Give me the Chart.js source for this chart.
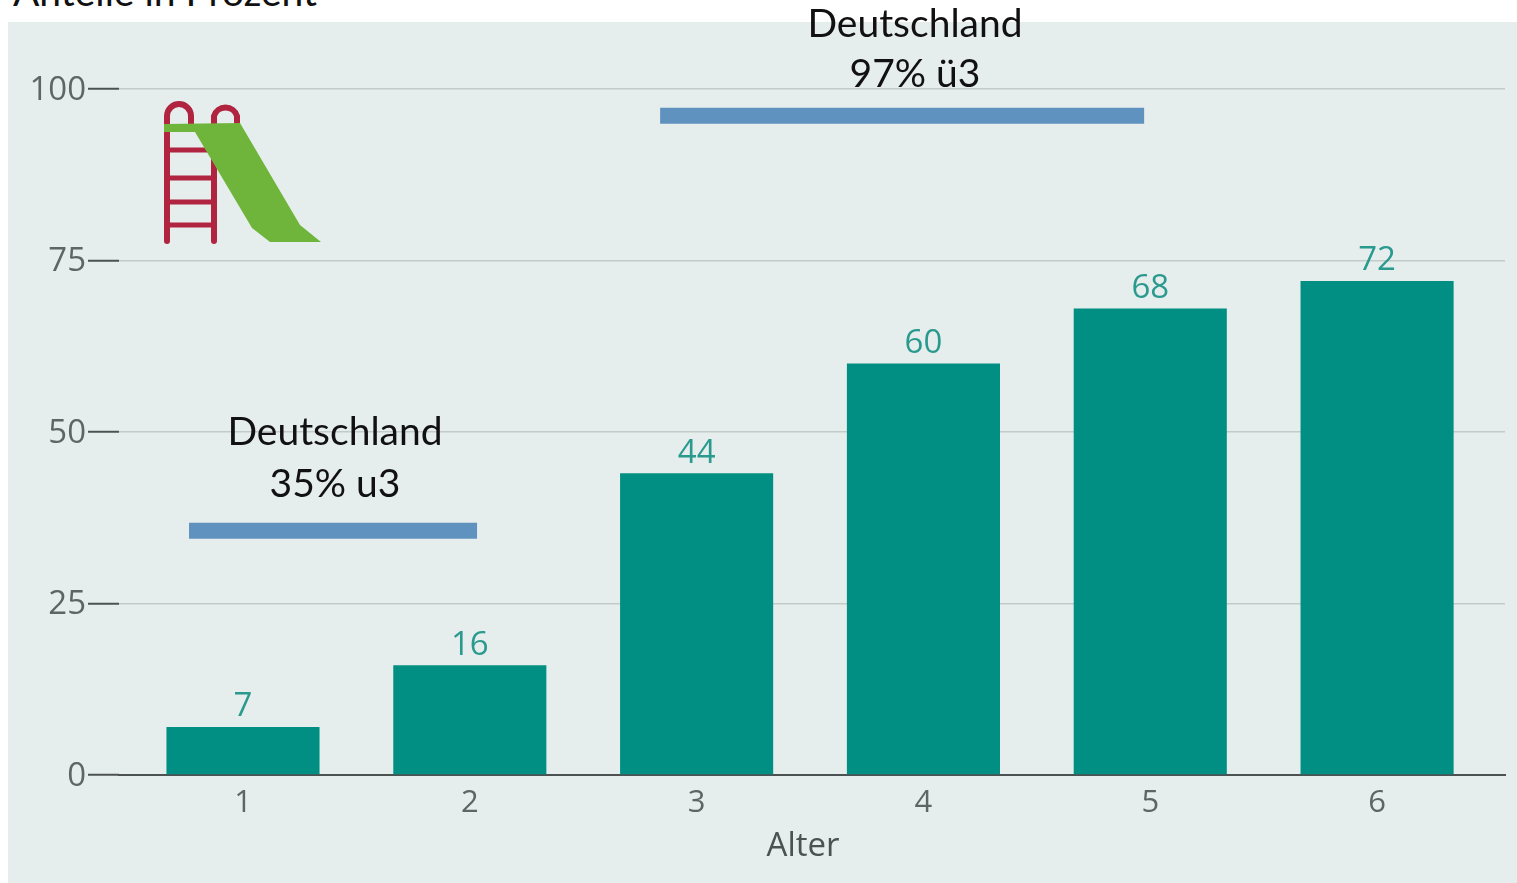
<!DOCTYPE html>
<html lang="de">
<head>
<meta charset="utf-8">
<title>Anteile in Prozent</title>
<script src="https://cdn.jsdelivr.net/npm/chart.js@4"></script>
<style>
  html, body { margin: 0; padding: 0; background: #fff; overflow: hidden; }
  #wrap { position: relative; width: 1517px; height: 883px; }
  #panel { position: absolute; left: 8px; top: 22px; right: 0; bottom: 0; background: #e6eeed; }
  #slide { position: absolute; left: 0; top: 0; }
  #caption { position: absolute; left: 13px; top: -32px; font: 39px Lato, sans-serif; color: #111; white-space: nowrap; }
  canvas { position: absolute; left: 0; top: 0; }
</style>
</head>
<body>
<div id="wrap">
  <div id="caption">Anteile in Prozent</div>
  <div id="panel"></div>
  <canvas id="ageChart" width="1517" height="883"></canvas>
  <!-- slide icon -->
  <svg id="slide" width="400" height="280" viewBox="0 0 400 280">
    <g fill="none" stroke="#b0243f" stroke-width="6" stroke-linecap="round">
      <path d="M167 241V116a12 12 0 0 1 24 0V124"/>
      <path d="M214 241V116a12 12 0 0 1 23 0V124"/>
      <path d="M168 150H212M168 178H212M168 202H212M168 225H212" stroke-width="5" stroke-linecap="butt"/>
    </g>
    <path fill="#6fb53c" d="M164 124L240 123L300 225L321 242L270 242L252 228L195 132L164 132Z"/>
  </svg>
</div>
<script>
// Betreuungsquote nach Alter
const ages = [1, 2, 3, 4, 5, 6];
const shares = [7, 16, 44, 60, 68, 72];
const yTicks = [0, 25, 50, 75, 100];

// the two blue reference lines for Germany
const u3X = [0.762, 2.032];
const u3Y = [35.6, 35.6];
const ue3X = [2.839, 4.973];
const ue3Y = [96.1, 96.1];

const notes = [
  { text: 'Deutschland', x: 335, y: 432 },
  { text: '35% u3', x: 335, y: 484 },
  { text: 'Deutschland', x: 915, y: 24 },
  { text: '97% ü3', x: 915, y: 74 }
];

const toPoints = (xs, ys) => xs.map((x, i) => ({ x, y: ys[i] }));
const teal = '#008f82';
const tickText = '#5f6565';

const textPlugin = {
  id: 'textPlugin',
  afterDatasetsDraw(chart) {
    const c = chart.ctx;
    c.save();
    c.textAlign = 'center';
    c.textBaseline = 'middle';

    // value labels above the bars
    c.font = '33px "Open Sans", sans-serif';
    c.fillStyle = '#2a9a8e';
    chart.getDatasetMeta(0).data.forEach((bar, i) => {
      c.fillText(String(shares[i]), bar.x, bar.y - 20);
    });

    c.font = '39px Lato, sans-serif';
    c.fillStyle = '#111';
    notes.forEach((n) => c.fillText(n.text, n.x, n.y));

    c.font = '33px "Open Sans", sans-serif';
    c.fillStyle = '#4c5252';
    c.fillText('Alter', 803, 847);
    c.restore();
  }
};

new Chart(document.getElementById('ageChart').getContext('2d'), {
  type: 'bar',
  data: {
    datasets: [
      {
        type: 'bar',
        data: toPoints(ages, shares),
        backgroundColor: teal,
        barPercentage: 0.675,
        categoryPercentage: 1,
        order: 2
      },
      {
        type: 'line',
        data: toPoints(u3X, u3Y),
        borderColor: '#6092c0',
        borderWidth: 16,
        borderCapStyle: 'butt',
        pointRadius: 0,
        order: 1
      },
      {
        type: 'line',
        data: toPoints(ue3X, ue3Y),
        borderColor: '#6092c0',
        borderWidth: 16,
        borderCapStyle: 'butt',
        pointRadius: 0,
        order: 1
      }
    ]
  },
  options: {
    responsive: false,
    animation: false,
    layout: { padding: { top: 89, right: 12 } },
    plugins: { legend: { display: false }, title: { display: false }, tooltip: { enabled: false } },
    scales: {
      x: {
        type: 'linear',
        offset: false,
        min: 0.4533,
        max: 6.564,
        afterFit: (scale) => { scale.height = 108; },
        afterBuildTicks: (scale) => { scale.ticks = ages.map((value) => ({ value })); },
        border: { display: true, color: '#4c5252', width: 2 },
        grid: { display: false },
        ticks: {
          color: tickText,
          padding: 2,
          maxRotation: 0,
          autoSkip: false,
          font: { family: '"Open Sans", sans-serif', size: 31 }
        }
      },
      y: {
        min: 0,
        max: 100,
        afterFit: (scale) => { scale.width = 119; },
        afterBuildTicks: (scale) => { scale.ticks = yTicks.map((value) => ({ value })); },
        border: { display: false },
        grid: {
          color: '#c3cbc9',
          lineWidth: 1.5,
          tickColor: '#4c5252',
          tickLength: 31,
          tickWidth: 2
        },
        ticks: {
          color: tickText,
          padding: 2,
          labelOffset: 1.5,
          font: { family: '"Open Sans", sans-serif', size: 33 }
        }
      }
    }
  },
  plugins: [textPlugin]
});
</script>
</body>
</html>
